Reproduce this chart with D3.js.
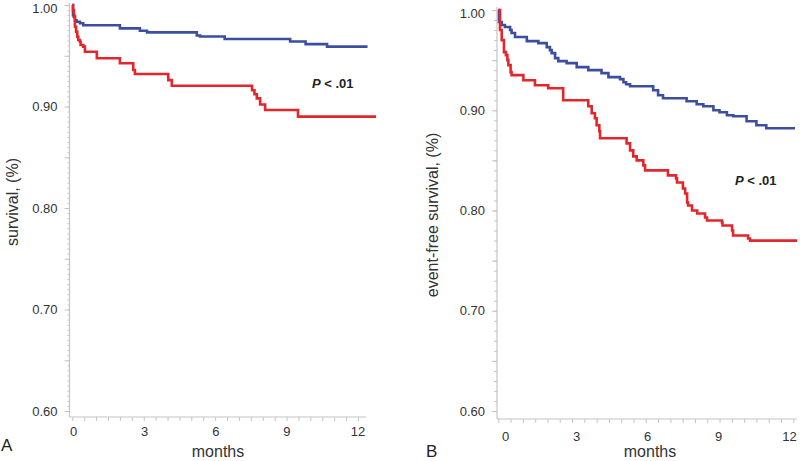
<!DOCTYPE html>
<html>
<head>
<meta charset="utf-8">
<script src="https://cdn.jsdelivr.net/npm/d3@7/dist/d3.min.js"></script>
<style>
  html, body { margin: 0; padding: 0; background: #fff; }
  svg { display: block; }
</style>
</head>
<body>
<svg id="chart" width="800" height="461"></svg>
<script>
// ---------- data ----------
const monthTicks = [0, 3, 6, 9, 12];
const yTickLabels = [0.60, 0.70, 0.80, 0.90, 1.00];

// Panel A: overall survival  [month, survival]
const aBlue = [
  [0, 1.0], [0.03, 0.99], [0.07, 0.9885], [0.11, 0.985], [0.18, 0.9835], [0.32, 0.982],
  [0.46, 0.980], [2.0, 0.977], [2.84, 0.9747], [3.14, 0.973], [5.23, 0.970], [5.37, 0.969],
  [6.4, 0.9665], [9.15, 0.964], [9.8, 0.9615], [10.7, 0.959], [12.4, 0.959]
];
const aRed = [
  [0, 1.0], [0.03, 0.995], [0.07, 0.9885], [0.11, 0.9786], [0.16, 0.9737], [0.21, 0.9688],
  [0.25, 0.9655], [0.32, 0.9638], [0.35, 0.9606], [0.46, 0.959], [0.53, 0.954],
  [1.03, 0.9475], [2.0, 0.9426], [2.56, 0.936], [2.63, 0.932], [4.03, 0.926], [4.18, 0.9205],
  [7.55, 0.916], [7.65, 0.912], [7.75, 0.908], [7.89, 0.902], [8.1, 0.8966], [9.48, 0.890], [12.76, 0.890]
];

// Panel B: event-free survival
const bBlue = [
  [0, 1.0], [0.03, 0.988], [0.14, 0.985], [0.27, 0.983], [0.48, 0.980], [0.54, 0.977],
  [0.68, 0.973], [1.16, 0.969], [1.63, 0.967], [1.97, 0.963], [2.1, 0.96], [2.17, 0.957],
  [2.31, 0.952], [2.44, 0.949], [2.78, 0.947], [3.19, 0.943], [3.66, 0.940], [4.2, 0.937],
  [4.48, 0.933], [4.95, 0.931], [5.09, 0.928], [5.2, 0.926], [5.36, 0.924], [6.3, 0.920],
  [6.5, 0.915], [6.7, 0.912], [7.66, 0.909], [8.07, 0.906], [8.34, 0.904], [8.75, 0.900],
  [9.0, 0.898], [9.3, 0.895], [9.56, 0.894], [10.1, 0.889], [10.5, 0.885], [10.9, 0.882], [12.07, 0.882]
];
const bRed = [
  [0, 1.0], [0.07, 0.980], [0.14, 0.970], [0.23, 0.958], [0.31, 0.955], [0.37, 0.950],
  [0.41, 0.945], [0.5, 0.938], [0.54, 0.935], [1.02, 0.930], [1.49, 0.925], [2.03, 0.922],
  [2.64, 0.910], [3.66, 0.904], [3.8, 0.897], [3.93, 0.892], [4.0, 0.885], [4.11, 0.879],
  [4.14, 0.872], [5.22, 0.867], [5.36, 0.860], [5.49, 0.854], [5.63, 0.850], [5.9, 0.845],
  [5.97, 0.840], [6.9, 0.835], [7.23, 0.832], [7.27, 0.828], [7.51, 0.822], [7.6, 0.817],
  [7.68, 0.808], [7.72, 0.805], [7.88, 0.800], [8.09, 0.797], [8.41, 0.793], [8.49, 0.790],
  [9.1, 0.788], [9.12, 0.785], [9.51, 0.780], [9.55, 0.775], [10.16, 0.772], [10.24, 0.770], [12.16, 0.770]
];

// ---------- drawing ----------
const svg = d3.select("#chart");
const BLUE = "#3b4ea0", RED = "#e3262b", AXIS = "#c4c4c4", TXT = "#333";
const FONT = "Liberation Sans, Arial, sans-serif";

function panel(cfg) {
  const x = d3.scaleLinear().domain([0, 12]).range(cfg.xr);
  const xl = d3.scaleLinear().domain([0, 12]).range(cfg.xlr); // label placement scale
  const y = d3.scaleLinear().domain([0.6, 1.0]).range(cfg.yr);
  const g = svg.append("g");

  // y minor ticks
  const step = cfg.fineStep;
  const fine = d3.range(0, Math.round(0.4 / step) + 1).map(i => 0.6 + i * step);
  g.append("g").attr("transform", `translate(${cfg.axX},0)`)
    .call(d3.axisLeft(y).tickValues(fine).tickSize(cfg.fineLen).tickFormat(""))
    .call(s => s.select(".domain").remove())
    .call(s => s.selectAll("line").attr("stroke", AXIS).attr("stroke-width", 1));
  // y medium ticks at 0.05
  g.append("g").attr("transform", `translate(${cfg.axX},0)`)
    .call(d3.axisLeft(y).tickValues(d3.range(0, 9).map(i => 0.6 + i * 0.05)).tickSize(5).tickFormat(""))
    .call(s => s.select(".domain").remove())
    .call(s => s.selectAll("line").attr("stroke", AXIS));
  // y labels
  g.append("g").attr("transform", `translate(${cfg.axX},0)`)
    .call(d3.axisLeft(y).tickValues(yTickLabels).tickSize(0).tickPadding(cfg.yPad).tickFormat(d3.format(".2f")))
    .call(s => s.select(".domain").remove())
    .call(s => s.selectAll("text").attr("font-family", FONT)
      .attr("font-size", 13).attr("fill", TXT)
      .attr("dy", d => d >= 0.999 ? "0.55em" : "0.32em"));

  // x ticks every half month
  g.append("g").attr("transform", `translate(0,${cfg.axY})`)
    .call(d3.axisBottom(x).tickValues(d3.range(0, 25).map(i => i * 0.5)).tickSize(4).tickFormat(""))
    .call(s => s.select(".domain").remove())
    .call(s => s.selectAll("line").attr("stroke", AXIS));
  // x labels
  g.append("g").attr("transform", `translate(0,${cfg.axY})`)
    .call(d3.axisBottom(xl).tickValues(monthTicks).tickSize(0).tickPadding(cfg.xPad))
    .call(s => s.select(".domain").remove())
    .call(s => s.selectAll("text").attr("font-family", FONT)
      .attr("font-size", 13).attr("fill", TXT));

  // axis lines
  g.append("line").attr("x1", cfg.axX).attr("x2", cfg.axX).attr("y1", cfg.axTop).attr("y2", cfg.axY)
    .attr("stroke", AXIS).attr("stroke-width", 1.2);
  g.append("line").attr("x1", cfg.axX).attr("x2", cfg.axRight).attr("y1", cfg.axY).attr("y2", cfg.axY)
    .attr("stroke", AXIS).attr("stroke-width", 1.2);

  // curves
  const line = d3.line().x(d => x(d[0])).y(d => y(d[1])).curve(d3.curveStepAfter);
  [[cfg.blue, BLUE], [cfg.red, RED]].forEach(([data, col]) => {
    g.append("path").datum(data).attr("d", line).attr("fill", "none")
      .attr("stroke", col).attr("stroke-width", 2.6).attr("stroke-linejoin", "miter");
  });

  // texts
  g.append("text").attr("transform", `translate(${cfg.ytX},${cfg.ytY}) rotate(-90)`)
    .attr("text-anchor", "middle").attr("font-family", FONT)
    .attr("font-size", 16).attr("fill", TXT).text(cfg.ytitle);
  g.append("text").attr("x", cfg.mX).attr("y", cfg.mY).attr("text-anchor", "middle")
    .attr("font-family", FONT).attr("font-size", 16)
    .attr("fill", TXT).text("months");
  g.append("text").attr("x", cfg.lX).attr("y", cfg.lY)
    .attr("font-family", FONT).attr("font-size", 17)
    .attr("fill", "#222").text(cfg.letter);
  const p = g.append("text").attr("x", cfg.pX).attr("y", cfg.pY)
    .attr("font-family", FONT).attr("font-size", 13)
    .attr("font-weight", "bold").attr("fill", "#222");
  p.append("tspan").attr("font-style", "italic").text("P");
  p.append("tspan").text(" < .01");
}

panel({
  xr: [72.3, 358], xlr: [73, 357.5], yr: [411, 5], axX: 69.5, axY: 417, axTop: 3, axRight: 366,
  fineStep: 0.005, fineLen: 2, yPad: 12, xPad: 10,
  blue: aBlue, red: aRed,
  ytitle: "survival, (%)", ytX: 18, ytY: 202,
  mX: 218, mY: 457, lX: 1, lY: 451, letter: "A", pX: 312, pY: 88
});

panel({
  xr: [498.3, 793.3], xlr: [505, 789], yr: [411, 10], axX: 497, axY: 419, axTop: 7, axRight: 797,
  fineStep: 0.01, fineLen: 3, yPad: 12, xPad: 13,
  blue: bBlue, red: bRed,
  ytitle: "event-free survival, (%)", ytX: 438, ytY: 215,
  mX: 650, mY: 457, lX: 426, lY: 457, letter: "B", pX: 735, pY: 185
});
</script>
</body>
</html>
